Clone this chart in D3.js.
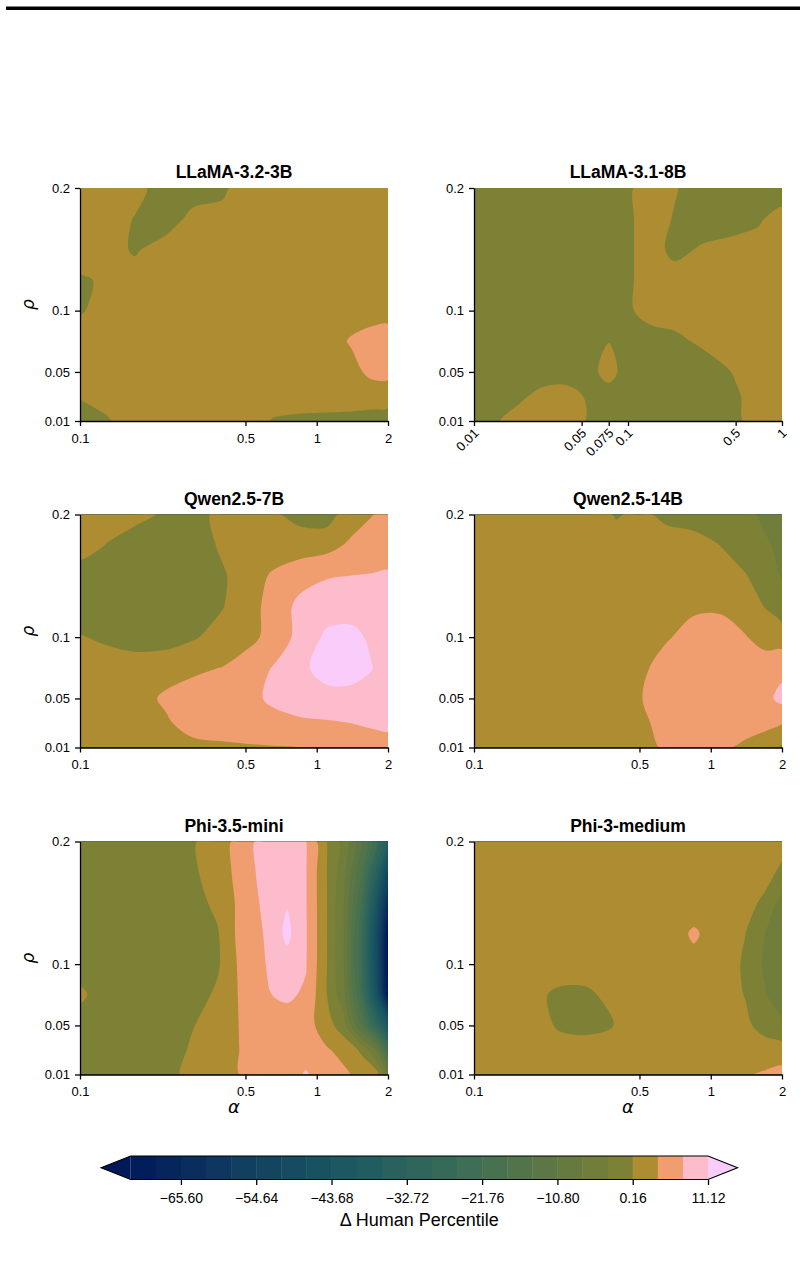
<!DOCTYPE html>
<html lang="en">
<head>
<meta charset="UTF-8">
<title>Δ Human Percentile</title>
<script src="https://cdn.jsdelivr.net/npm/d3@7"></script>
<style>
  body { margin: 0; background: #fff; }
  svg { display: block; font-family: "Liberation Sans", Arial, sans-serif; }
</style>
</head>
<body>
<div class="chart"></div>
<script>
// contour levels (shared colour scale) and colorbar ticks
const levels = [-72.91, -69.25, -65.60, -61.95, -58.29, -54.64, -50.99, -47.33, -43.68, -40.03, -36.37, -32.72,
                -29.07, -25.41, -21.76, -18.11, -14.45, -10.80, -7.15, -3.49, 0.16, 3.81, 7.47, 11.12]
const cbTicks = [-65.60, -54.64, -43.68, -32.72, -21.76, -10.80, 0.16, 11.12]

// sampling grids
const rhoGrid = [0.01, 0.03, 0.05, 0.075, 0.1, 0.125, 0.15, 0.175, 0.2]
const alphaGrid = [0.1, 0.13, 0.17, 0.23, 0.3, 0.4, 0.5, 0.65, 0.85, 1.1, 1.4, 1.7, 2]
const alphaGrid8b = [0.01, 0.014, 0.02, 0.028, 0.04, 0.056, 0.075, 0.1, 0.14, 0.2, 0.3, 0.5, 0.7, 1]
const alphaGridPhiMini = [0.1, 0.13, 0.17, 0.23, 0.3, 0.38, 0.47, 0.6, 0.75, 0.9, 1.1, 1.3, 1.55, 1.8, 2]

const rhoTicks = [0.01, 0.05, 0.1, 0.2]
const alphaTicks = [0.1, 0.5, 1, 2]
const alphaTicks8b = [0.01, 0.05, 0.075, 0.1, 0.5, 1]

const titles = ['LLaMA-3.2-3B', 'LLaMA-3.1-8B', 'Qwen2.5-7B', 'Qwen2.5-14B', 'Phi-3.5-mini', 'Phi-3-medium']

// Δ human percentile, one row per rho (0.01 -> 0.2), one column per alpha
const llama3b = [
  [-1.5, -0.24, 2, 2, 2, 2, 2, -0.1, -0.6, -0.8, -1, -1, -1.2],
  [0.3, 1.5, 2, 2, 2, 2, 2, 2, 2, 2, 2, 1.5, 1.4],
  [2, 2, 2, 2, 2, 2, 2, 2, 2, 2, 2.5, 4.8, 5],
  [2, 2, 2, 2, 2, 2, 2, 2, 2, 2, 4.2, 5.5, 6],
  [-0.3, 2, 2, 2, 2, 2, 2, 2, 2, 2, 2, 2, 2.1],
  [-0.6, 1.0, 2, 2, 2, 2, 2, 2, 2, 2, 2, 2, 2],
  [2.7, 2, -0.36, 2, 2, 2, 2, 2, 2, 2, 2, 2, 2],
  [2, 2, 0, -2, 1.4, 2, 2, 2, 2, 2, 2, 2, 2],
  [2, 2, 1.6, -2, -2, -1, 2.7, 2, 2, 2, 2, 2, 2]
]
const llama8b = [
  [-2, -0.2, 2, 2, 2, -0.3, -2, -2, -2, -2, -2, -0.5, 1.5, 2],
  [-2, -2, -0.5, 1.5, 2, -0.5, -3, -2, -2, -2, -2, -0.3, 1.6, 2],
  [-2, -2, -2, -2, -2, -2, 2.7, -3, -2, -2, -2, 0.5, 2, 2],
  [-2, -2, -2, -2, -2, -2, 0, -2, -2, -0.8, 0.8, 2, 2, 2],
  [-2, -2, -2, -2, -2, -2, -2, -0.5, 2, 2, 2, 2, 2, 2],
  [-2, -2, -2, -2, -2, -2, -2, -0.5, 2, 2, 2, 2, 2, 2],
  [-2, -2, -2, -2, -2, -2, -2, -0.5, 2, -1, 0.6, 2, 2, 2],
  [-2, -2, -2, -2, -2, -2, -2, -0.5, 2, -0.1, -2, -2, -0.5, 2.1],
  [-2, -2, -2, -2, -2, -2, -2, -0.5, 2, 0.5, -2, -2, -2, -3]
]
const qwen7b = [
  [2, 2, 2, 2, 3.0, 3.2, 3.4, 3.6, 3.75, 4.0, 4.5, 5, 5.5],
  [2, 2, 2, 3.4, 5.0, 5.6, 6.0, 6.5, 6.8, 7.1, 7.5, 8.2, 8.5],
  [2, 2, 2.5, 4.3, 5.2, 5.5, 6.5, 8.0, 9.5, 10, 10, 9.8, 9.5],
  [2, 2, 2, 2.5, 3.2, 3.9, 5.5, 7.6, 10.3, 12.5, 12.5, 11.3, 9.5],
  [0.4, -0.5, -1.5, -1.5, -0.2, 1.5, 2.5, 5.0, 8.6, 11.8, 12.2, 10.5, 9.5],
  [-2, -2.5, -3, -3, -2.5, 0.0, 2.2, 5.0, 8.5, 9.5, 9.5, 10, 10],
  [-2, -2, -2, -2.5, -2.5, -0.3, 2, 4.2, 6, 7.2, 7.5, 7.6, 7.7],
  [2, 0.0, -2, -2, -2, 0.8, 2, 2, 2, 2.5, 4.5, 6, 6.5],
  [2, 2, 1.5, -0.5, -1, 1.0, 2, 0.6, -1, -1.5, 2, 3.6, 5]
]
const qwen14b = [
  [2, 2, 2, 2, 2, 2, 2.5, 4.3, 5, 4.5, 3.0, 1.5, -0.5],
  [2, 2, 2, 2, 2, 2, 3.0, 5.0, 5.5, 5.5, 5.5, 5.0, 4.0],
  [2, 2, 2, 2, 2, 2, 3.6, 5.5, 5.8, 6.0, 6.2, 6.5, 8.5],
  [2, 2, 2, 2, 2, 2, 3.0, 5.2, 5.8, 6.0, 6.0, 5.5, 6.5],
  [2, 2, 2, 2, 2, 2, 2, 3.5, 5.0, 5.0, 4.0, 2.5, 2],
  [2, 2, 2, 2, 2, 2, 2, 2, 3.3, 3.4, 2, 0.0, -2],
  [2, 2, 2, 2, 2, 2, 2, 2, 2, 2, 0.4, -2, -3.7],
  [2, 2, 2, 2, 2, 2, 2, 2, 2, 0.1, -2, -3.2, -4.0],
  [2, 2, 2, 2, 2, -0.2, 1.0, -0.8, -2, -2, -3, -4, -4.5]
]
const phiMini = [
  [-2, -2, -2, -2, 2.1, 2.8, 3.8, 5.0, 6.0, 7.8, 5.5, 4.5, 2.5, 1.5, -7],
  [-2, -2, -2, -2, 0.8, 2.5, 3.8, 5.2, 6.5, 6.0, 4.2, 2.7, -0.5, -8, -22],
  [-2, -2, -2, -2, 0.0, 2.0, 3.85, 5.5, 6.0, 5.5, 1.7, -1.8, -15, -30, -42],
  [1.0, -2, -2, -2, -1.5, 0.8, 4.0, 7.2, 8.0, 7.0, 0.3, -6, -23, -47, -72],
  [-2, -2, -2, -2, -2, -0.4, 4.3, 7.3, 9.8, 7.7, 0.4, -7, -25, -50, -75],
  [-2, -2, -2, -2, -2, -0.2, 4.75, 7.6, 12.0, 7.8, 0.4, -7, -25, -50, -74],
  [-2, -2, -2, -2, -1.2, 1.0, 4.5, 8.2, 10.9, 7.7, 0.4, -7, -22, -45, -65],
  [-2, -2, -2, -2, -0.6, 2.5, 4.5, 9.0, 10.2, 7.7, 0.3, -6, -18, -35, -52],
  [-2, -2, -2, -2, -0.3, 2.4, 4.6, 9.2, 9.8, 7.6, 0.25, -5, -14, -26, -38]
]
const phiMedium = [
  [2, 2, 2, 2, 2, 2, 2, 2, 2, 2, 3.5, 4.2, 5.0],
  [2, 2, 2, 2, 2, 2, 2, 2, 2, 2, 2, 2, 1.7],
  [2, 2, 2.5, -0.4, -1.0, 0.3, 2, 2, 2, 2, 1.0, -1.4, -3.0],
  [2, 2, 1.2, -0.5, -0.5, 1.5, 2, 2, 2, 2, 0.0, -3.3, -5.5],
  [2, 2, 2, 2, 2, 2, 2, 2, 2.8, 2, -0.3, -4.1, -6.8],
  [2, 2, 2, 2, 2, 2, 2, 2, 4.3, 2, 0.2, -3.5, -6.5],
  [2, 2, 2, 2, 2, 2, 2, 2, 2, 2, 2, -1.0, -4.9],
  [2, 2, 2, 2, 2, 2, 2, 2, 2, 2, 2, 2, -1],
  [2, 2, 2, 2, 2, 2, 2, 2, 2, 2, 2, 2, 2]
]

const panels = [
  { title: titles[0], alpha: alphaGrid, ticks: alphaTicks, z: llama3b },
  { title: titles[1], alpha: alphaGrid8b, ticks: alphaTicks8b, z: llama8b, rotate: true },
  { title: titles[2], alpha: alphaGrid, ticks: alphaTicks, z: qwen7b },
  { title: titles[3], alpha: alphaGrid, ticks: alphaTicks, z: qwen14b },
  { title: titles[4], alpha: alphaGridPhiMini, ticks: alphaTicks, z: phiMini },
  { title: titles[5], alpha: alphaGrid, ticks: alphaTicks, z: phiMedium }
]

const width = 804
const height = 1262
const pw = 308
const ph = 233
const colX = [80, 474]
const rowY = [188, 514.5, 841.5]

// batlow colormap, diverging around 0
const batlow = ['#011959', '#103F60', '#1C5A62', '#3C6D56', '#687B3E', '#9D892B', '#D29343', '#F8A17B', '#FDB7BC', '#FACCFA']
const cmap = d3.scaleLinear()
  .domain(batlow.map((d, i) => i / (batlow.length - 1)))
  .range(batlow)
  .interpolate(d3.interpolateRgb)
const vmin = levels[0]
const vmax = levels[levels.length - 1]
const norm = v => v < 0 ? 0.5 * (v - vmin) / (0 - vmin) : 0.5 + 0.5 * v / vmax
const layerColors = d3.range(levels.length - 1).map(k => cmap(norm((levels[k] + levels[k + 1]) / 2)))
const underColor = cmap(0)
const overColor = cmap(1)

const svg = d3.select('.chart')
  .append('svg')
  .attr('width', width)
  .attr('height', height)

svg.append('rect').attr('width', width).attr('height', height).attr('fill', '#fff')
svg.append('rect')
  .attr('x', 6).attr('y', 6.5)
  .attr('width', 794).attr('height', 3.5)
  .attr('fill', '#000')

const ringLine = d3.line().curve(d3.curveCatmullRomClosed.alpha(0.5))

// contour grid coordinate -> data value along a sample grid
function along(arr, c, log) {
  const t = Math.max(0, Math.min(arr.length - 1, c - 0.5))
  const i = Math.min(arr.length - 2, Math.floor(t))
  const f = t - i
  if (log) return Math.exp(Math.log(arr[i]) * (1 - f) + Math.log(arr[i + 1]) * f)
  return arr[i] * (1 - f) + arr[i + 1] * f
}

function styleAxis(sel, size) {
  sel.attr('font-size', size).attr('font-family', '"Liberation Sans", Arial, sans-serif')
  sel.select('.domain').attr('stroke-width', 1.3)
  sel.selectAll('.tick line').attr('stroke-width', 1.3)
  sel.selectAll('.tick text').attr('fill', '#000')
}

panels.forEach((p, i) => {
  const col = i % 2
  const row = Math.floor(i / 2)
  const n = p.alpha.length
  const m = rhoGrid.length
  const g = svg.append('g').attr('transform', `translate(${colX[col]},${rowY[row]})`)

  const xScale = d3.scaleLog().domain([p.alpha[0], p.alpha[n - 1]]).range([0, pw])
  const yScale = d3.scaleLinear().domain([rhoGrid[0], rhoGrid[m - 1]]).range([ph, 0])

  const clipId = 'clip' + i
  g.append('clipPath').attr('id', clipId)
    .append('rect').attr('width', pw).attr('height', ph)

  const plot = g.append('g').attr('clip-path', `url(#${clipId})`)
  plot.append('rect').attr('width', pw).attr('height', ph).attr('fill', underColor)

  const contours = d3.contours().size([n, m]).thresholds(levels)(p.z.flat())
  const toPx = ([cx, cy]) => [xScale(along(p.alpha, cx, true)), yScale(along(rhoGrid, cy, false))]

  plot.selectAll('.band')
    .data(contours)
    .enter()
    .append('path')
    .attr('class', 'band')
    .attr('fill', (d, k) => k < layerColors.length ? layerColors[k] : overColor)
    .attr('fill-rule', 'evenodd')
    .attr('d', d => d.coordinates
      .map(poly => poly.map(ring => ringLine(ring.slice(0, -1).map(toPx))).join(''))
      .join(''))

  // axes
  const xAxis = d3.axisBottom(xScale).tickValues(p.ticks).tickFormat(d => String(d))
    .tickSize(5).tickSizeOuter(0).tickPadding(7.5)
  const gx = g.append('g').attr('transform', `translate(0,${ph})`).call(xAxis)
  styleAxis(gx, 13)
  if (p.rotate) {
    gx.selectAll('.tick text')
      .attr('y', 0).attr('dy', 0)
      .attr('text-anchor', 'end')
      .attr('transform', 'translate(5,13) rotate(-45)')
  }

  const yAxis = d3.axisLeft(yScale).tickValues(rhoTicks).tickFormat(d => String(d))
    .tickSize(5).tickSizeOuter(0).tickPadding(5)
  const gy = g.append('g').call(yAxis)
  styleAxis(gy, 13)

  g.append('text')
    .attr('x', pw / 2).attr('y', -10)
    .attr('text-anchor', 'middle')
    .attr('font-size', 17.5).attr('font-weight', 'bold')
    .text(p.title)

  if (col === 0) {
    g.append('text')
      .attr('transform', `translate(-46,${ph / 2}) rotate(-90)`)
      .attr('text-anchor', 'middle')
      .attr('font-family', '"DejaVu Sans", sans-serif')
      .attr('font-style', 'italic')
      .attr('font-size', 17)
      .text('ρ')
  }
  if (row === 2) {
    g.append('text')
      .attr('x', pw / 2).attr('y', ph + 38.5)
      .attr('text-anchor', 'middle')
      .attr('font-family', '"DejaVu Sans", sans-serif')
      .attr('font-style', 'italic')
      .attr('font-size', 18)
      .text('α')
  }
})

// colorbar
const cbLeft = 130.7
const cbRight = 708
const cbTop = 1156
const cbH = 23.5
const cbExt = 29.5
const cbX = d3.scaleLinear().domain([vmin, vmax]).range([cbLeft, cbRight])
const cb = svg.append('g')

cb.selectAll('.seg')
  .data(layerColors)
  .enter()
  .append('rect')
  .attr('class', 'seg')
  .attr('x', (d, k) => cbX(levels[k]))
  .attr('y', cbTop)
  .attr('width', (d, k) => cbX(levels[k + 1]) - cbX(levels[k]) + 0.4)
  .attr('height', cbH)
  .attr('fill', d => d)

cb.append('path')
  .attr('d', `M${cbLeft},${cbTop}L${cbLeft - cbExt},${cbTop + cbH / 2}L${cbLeft},${cbTop + cbH}Z`)
  .attr('fill', underColor)
cb.append('path')
  .attr('d', `M${cbRight},${cbTop}L${cbRight + cbExt},${cbTop + cbH / 2}L${cbRight},${cbTop + cbH}Z`)
  .attr('fill', overColor)
cb.append('path')
  .attr('d', `M${cbLeft},${cbTop}L${cbRight},${cbTop}L${cbRight + cbExt},${cbTop + cbH / 2}L${cbRight},${cbTop + cbH}` +
             `L${cbLeft},${cbTop + cbH}L${cbLeft - cbExt},${cbTop + cbH / 2}Z`)
  .attr('fill', 'none')
  .attr('stroke', '#000')
  .attr('stroke-width', 1.2)

const cbAxis = d3.axisBottom(cbX).tickValues(cbTicks).tickFormat(d3.format('.2f'))
  .tickSize(5.5).tickSizeOuter(0).tickPadding(8)
const gcb = cb.append('g').attr('transform', `translate(0,${cbTop + cbH})`).call(cbAxis)
styleAxis(gcb, 14)
gcb.select('.domain').remove()

cb.append('text')
  .attr('x', (cbLeft + cbRight) / 2)
  .attr('y', 1226)
  .attr('text-anchor', 'middle')
  .attr('font-size', 18)
  .text('Δ Human Percentile')
</script>
</body>
</html>
